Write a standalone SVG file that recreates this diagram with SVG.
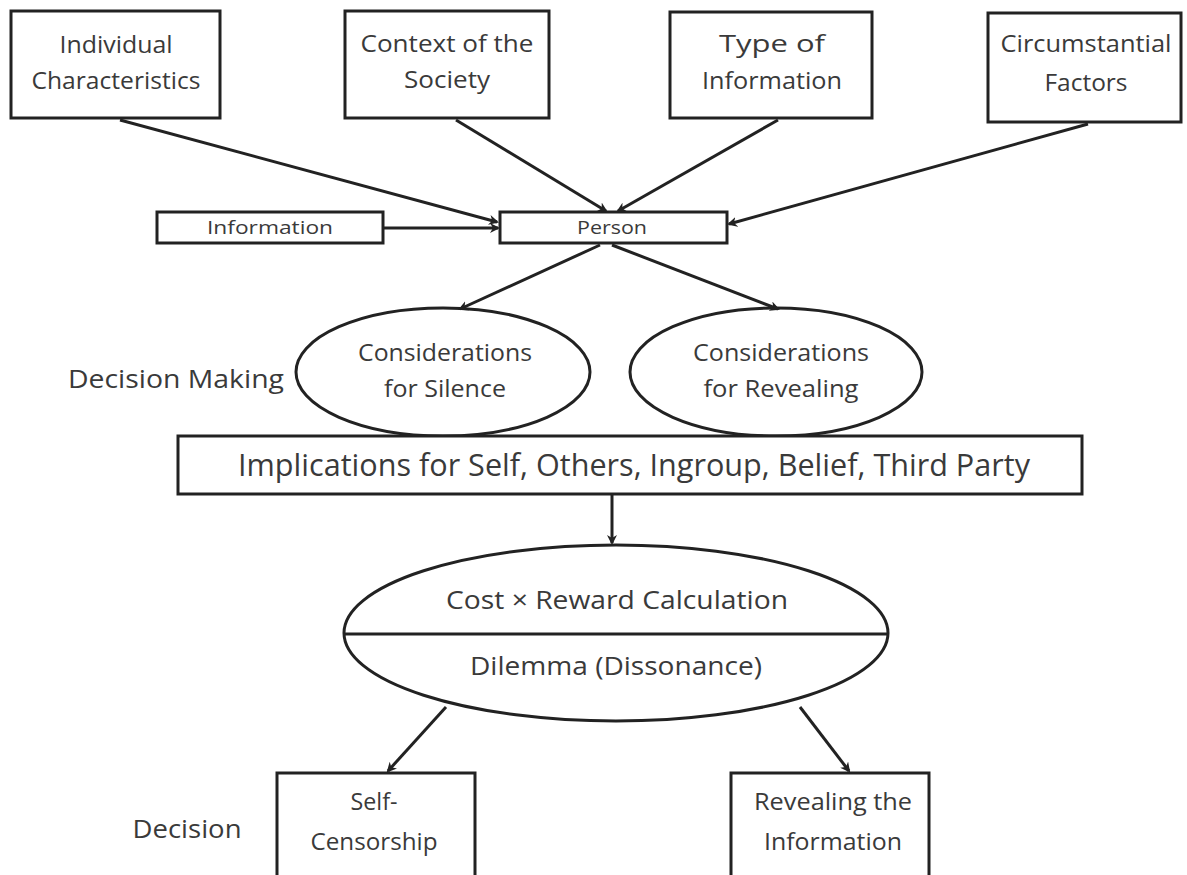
<svg xmlns="http://www.w3.org/2000/svg" width="1187" height="875" viewBox="0 0 1187 875">
<style>
.box{fill:#fff;stroke:#222;stroke-width:3}
.ell{fill:#fff;stroke:#222;stroke-width:3}
.t{font-family:"Open Sans","Noto Sans",sans-serif;fill:#3a3a3a;text-anchor:middle}
.s23{font-size:23px}
.s19{font-size:19px}
.s25{font-size:25px}
.s31{font-size:31px}
.conn line{stroke:#222;stroke-width:3;marker-end:url(#ah)}
</style>
<defs>
<marker id="ah" markerWidth="10" markerHeight="10" refX="8" refY="5" orient="auto" markerUnits="userSpaceOnUse" viewBox="0 0 10 10">
<path d="M0,0 L10,5 L0,10 L3,5 Z" fill="#222"/>
</marker>
</defs>
<rect width="1187" height="875" fill="#fff"/>
<g id="n-individual"><rect class="box" x="11" y="11" width="209" height="107"/><text class="t s23" x="116" y="53" textLength="113" lengthAdjust="spacingAndGlyphs">Individual</text><text class="t s23" x="116" y="89" textLength="169" lengthAdjust="spacingAndGlyphs">Characteristics</text></g>
<g id="n-context"><rect class="box" x="345" y="11" width="204" height="107"/><text class="t s23" x="447" y="52" textLength="173" lengthAdjust="spacingAndGlyphs">Context of  the</text><text class="t s23" x="447" y="88" textLength="86" lengthAdjust="spacingAndGlyphs">Society</text></g>
<g id="n-type"><rect class="box" x="670" y="12" width="202" height="106"/><text class="t s23" x="772" y="52" textLength="106" lengthAdjust="spacingAndGlyphs">Type of</text><text class="t s23" x="772" y="89" textLength="140" lengthAdjust="spacingAndGlyphs">Information</text></g>
<g id="n-circ"><rect class="box" x="988" y="13" width="193" height="109"/><text class="t s23" x="1086" y="52" textLength="171" lengthAdjust="spacingAndGlyphs">Circumstantial</text><text class="t s23" x="1086" y="91" textLength="83" lengthAdjust="spacingAndGlyphs">Factors</text></g>
<g id="n-information"><rect class="box" x="157" y="212" width="226" height="31"/><text class="t s19" x="270" y="234" textLength="126" lengthAdjust="spacingAndGlyphs">Information</text></g>
<g id="n-person"><rect class="box" x="500" y="212" width="227" height="31"/><text class="t s19" x="612" y="234" textLength="70" lengthAdjust="spacingAndGlyphs">Person</text></g>
<g id="n-silence"><ellipse class="ell" cx="443" cy="372" rx="147" ry="64"/><text class="t s23" x="445" y="361" textLength="174" lengthAdjust="spacingAndGlyphs">Considerations</text><text class="t s23" x="445" y="397" textLength="122" lengthAdjust="spacingAndGlyphs">for Silence</text></g>
<g id="n-revealing"><ellipse class="ell" cx="776" cy="372" rx="146" ry="64"/><text class="t s23" x="781" y="361" textLength="176" lengthAdjust="spacingAndGlyphs">Considerations</text><text class="t s23" x="781" y="397" textLength="155" lengthAdjust="spacingAndGlyphs">for Revealing</text></g>
<g id="l-decision-making"><text class="t s25" x="176" y="388" textLength="216" lengthAdjust="spacingAndGlyphs">Decision Making</text></g>
<g id="n-implications"><rect class="box" x="178" y="436" width="904" height="58"/><text class="t s31" x="634" y="476" textLength="792" lengthAdjust="spacingAndGlyphs">Implications for Self, Others, Ingroup, Belief, Third Party</text></g>
<g id="n-calc"><ellipse class="ell" cx="616" cy="633" rx="272" ry="88"/><line x1="344" y1="634" x2="888" y2="634" stroke="#222" stroke-width="3"/><text class="t s25" x="617" y="609" textLength="342" lengthAdjust="spacingAndGlyphs">Cost × Reward Calculation</text><text class="t s25" x="616" y="675" textLength="292" lengthAdjust="spacingAndGlyphs">Dilemma (Dissonance)</text></g>
<g id="n-self"><rect class="box" x="277" y="773" width="198" height="110"/><text class="t s23" x="374" y="810" textLength="47" lengthAdjust="spacingAndGlyphs">Self-</text><text class="t s23" x="374" y="850" textLength="127" lengthAdjust="spacingAndGlyphs">Censorship</text></g>
<g id="n-reveal-info"><rect class="box" x="731" y="773" width="198" height="110"/><text class="t s23" x="833" y="810" textLength="158" lengthAdjust="spacingAndGlyphs">Revealing the</text><text class="t s23" x="833" y="850" textLength="138" lengthAdjust="spacingAndGlyphs">Information</text></g>
<g id="l-decision"><text class="t s25" x="187" y="838" textLength="109" lengthAdjust="spacingAndGlyphs">Decision</text></g>
<g class="conn" id="connectors">
<line x1="120" y1="120" x2="497" y2="222"/>
<line x1="456" y1="120" x2="606" y2="211"/>
<line x1="778" y1="120" x2="618" y2="211"/>
<line x1="1088" y1="124" x2="729" y2="224"/>
<line x1="383" y1="228" x2="498" y2="228"/>
<line x1="600" y1="245" x2="460" y2="309"/>
<line x1="612" y1="245" x2="778" y2="309"/>
<line x1="612" y1="494" x2="612" y2="543"/>
<line x1="446" y1="707" x2="388" y2="771"/>
<line x1="800" y1="707" x2="849" y2="771"/>
</g>
</svg>
